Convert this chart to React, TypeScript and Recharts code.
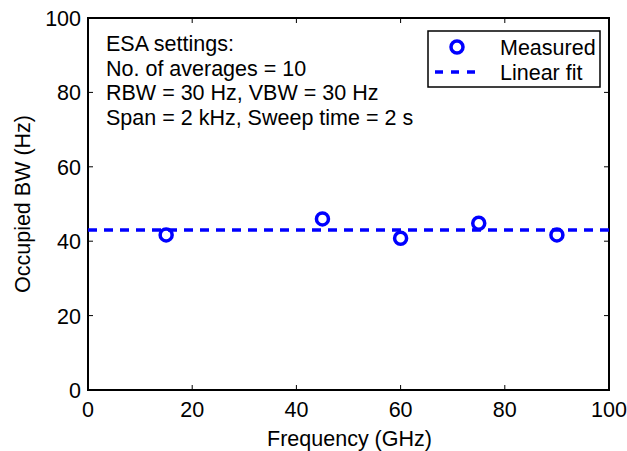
import {
  ComposedChart,
  Legend,
  Line,
  ReferenceArea,
  Scatter,
  XAxis,
  YAxis,
} from "recharts";

// measured occupied bandwidth vs. carrier frequency
const freqGHz = [15, 45, 60, 75, 90];
const occupiedBwHz = [41.7, 46.0, 40.8, 44.8, 41.7];
// linear fit endpoints (essentially flat)
const fitFreqGHz = [0, 100];
const fitBwHz = [43.0, 43.0];

const xTicks = [0, 20, 40, 60, 80, 100];
const yTicks = [0, 20, 40, 60, 80, 100];

const settingsLines = [
  "ESA settings:",
  "No. of averages = 10",
  "RBW = 30 Hz, VBW = 30 Hz",
  "Span = 2 kHz, Sweep time = 2 s",
];

const W = 627;
const H = 451;
const PLOT_LEFT = 88;
const PLOT_RIGHT = 609;
const PLOT_TOP = 18;
const PLOT_BOTTOM = 390;
const TICK_LEN = 5;
const FONT = '"Liberation Sans", Arial, Helvetica, sans-serif';
const FONT_SIZE = 21.5;
const BLUE = "#0000ff";

const measured = freqGHz.map((x, i) => ({ x, y: occupiedBwHz[i] }));
const fit = fitFreqGHz.map((x, i) => ({ x, y: fitBwHz[i] }));

function XTick({ x, payload }: any) {
  return (
    <g>
      <line x1={x} x2={x} y1={PLOT_BOTTOM} y2={PLOT_BOTTOM - TICK_LEN} stroke="#000" strokeWidth={1} />
      <line x1={x} x2={x} y1={PLOT_TOP} y2={PLOT_TOP + TICK_LEN} stroke="#000" strokeWidth={1} />
      <text x={x} y={417} textAnchor="middle" fontFamily={FONT} fontSize={FONT_SIZE} fill="#000">
        {payload.value}
      </text>
    </g>
  );
}

function YTick({ y, payload }: any) {
  return (
    <g>
      <line x1={PLOT_LEFT} x2={PLOT_LEFT + TICK_LEN} y1={y} y2={y} stroke="#000" strokeWidth={1} />
      <line x1={PLOT_RIGHT} x2={PLOT_RIGHT - TICK_LEN} y1={y} y2={y} stroke="#000" strokeWidth={1} />
      <text x={81} y={y + 8} textAnchor="end" fontFamily={FONT} fontSize={FONT_SIZE} fill="#000">
        {payload.value}
      </text>
    </g>
  );
}

function YTitle({ viewBox }: any) {
  const cy = viewBox.y + viewBox.height / 2;
  const cx = 30;
  return (
    <text
      x={cx}
      y={cy}
      transform={`rotate(-90, ${cx}, ${cy})`}
      textAnchor="middle"
      fontFamily={FONT}
      fontSize={FONT_SIZE}
      fill="#000"
    >
      Occupied BW (Hz)
    </text>
  );
}

function XTitle({ viewBox }: any) {
  const cx = viewBox.x + viewBox.width / 2;
  return (
    <text x={cx + 1} y={446} textAnchor="middle" fontFamily={FONT} fontSize={FONT_SIZE} fill="#000">
      Frequency (GHz)
    </text>
  );
}

function Marker({ cx, cy }: any) {
  if (cx == null || cy == null) return null;
  return <circle cx={cx} cy={cy} r={6} fill="none" stroke={BLUE} strokeWidth={3.5} />;
}

function LegendBox() {
  return (
    <svg width={174} height={58} style={{ display: "block" }}>
      <rect x={1} y={1} width={172} height={56} fill="#fff" stroke="#000" strokeWidth={1.5} />
      <circle cx={30} cy={17} r={6} fill="none" stroke={BLUE} strokeWidth={3.5} />
      <line x1={8} x2={52} y1={42} y2={42} stroke={BLUE} strokeWidth={3.5} strokeDasharray="8 8" />
      <text x={73} y={25} fontFamily={FONT} fontSize={FONT_SIZE} fill="#000">
        Measured
      </text>
      <text x={73} y={50} fontFamily={FONT} fontSize={FONT_SIZE} fill="#000">
        Linear fit
      </text>
    </svg>
  );
}

export default function App() {
  return (
    <div
      style={{
        position: "absolute",
        left: 0,
        top: 0,
        width: W,
        height: H,
        background: "#fff",
        fontFamily: FONT,
      }}
    >
      <ComposedChart
        width={W}
        height={H}
        margin={{ top: PLOT_TOP, right: W - PLOT_RIGHT, bottom: 0, left: 0 }}
      >
        <XAxis
          type="number"
          dataKey="x"
          domain={[0, 100]}
          ticks={xTicks}
          interval={0}
          height={H - PLOT_BOTTOM}
          axisLine={false}
          tickLine={false}
          tick={<XTick />}
          label={<XTitle />}
        />
        <YAxis
          type="number"
          dataKey="y"
          domain={[0, 100]}
          ticks={yTicks}
          interval={0}
          width={PLOT_LEFT}
          axisLine={false}
          tickLine={false}
          tick={<YTick />}
          label={<YTitle />}
        />
        <ReferenceArea
          x1={0}
          x2={100}
          y1={0}
          y2={100}
          fill="none"
          fillOpacity={0}
          stroke="#000"
          strokeWidth={2}
          ifOverflow="visible"
        />
        <Line
          data={fit}
          dataKey="y"
          type="linear"
          stroke={BLUE}
          strokeWidth={3.5}
          strokeDasharray="9 7"
          dot={false}
          activeDot={false}
          isAnimationActive={false}
        />
        <Scatter
          data={measured}
          dataKey="y"
          shape={<Marker />}
          isAnimationActive={false}
        />
        <Legend
          layout="vertical"
          align="center"
          verticalAlign="middle"
          content={() => <LegendBox />}
          wrapperStyle={{ position: "absolute", left: 427, top: 30, width: 174, height: 58 }}
        />
      </ComposedChart>
      <div
        style={{
          position: "absolute",
          left: 106,
          top: 32,
          fontSize: FONT_SIZE,
          lineHeight: "24.5px",
          color: "#000",
          whiteSpace: "nowrap",
          pointerEvents: "none",
        }}
      >
        {settingsLines.map((line) => (
          <div key={line}>{line}</div>
        ))}
      </div>
    </div>
  );
}
